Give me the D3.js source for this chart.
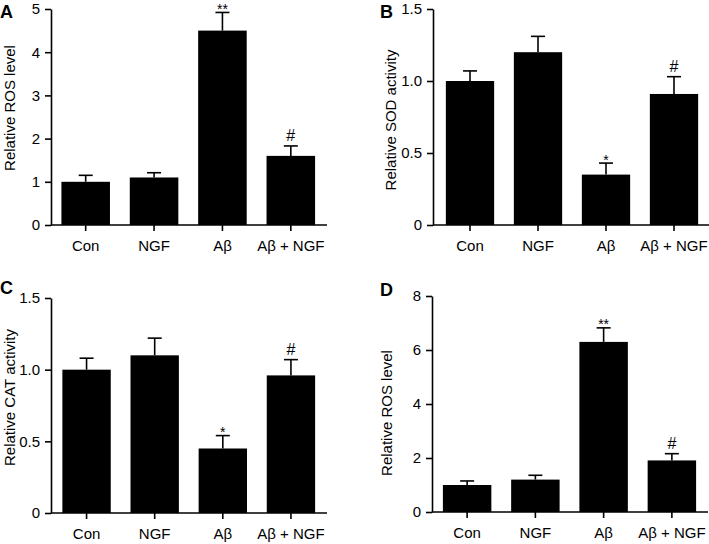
<!DOCTYPE html>
<html><head><meta charset="utf-8">
<script src="https://cdn.jsdelivr.net/npm/d3@7"></script>
<style>
body{margin:0;background:#fff;}
svg{display:block;}
text{font-family:"Liberation Sans",Arial,Helvetica,sans-serif;fill:#000;}
</style></head>
<body>
<svg id="c" width="709" height="544"></svg>
<script>
const categories = ["Con", "NGF", "Aβ", "Aβ + NGF"];

const rosA = [1.0, 1.1, 4.5, 1.6];
const rosAErr = [0.15, 0.11, 0.42, 0.23];
const rosASig = ["", "", "**", "#"];
const ticksA = [0, 1, 2, 3, 4, 5];

const sodB = [1.0, 1.2, 0.35, 0.91];
const sodBErr = [0.07, 0.11, 0.08, 0.12];
const sodBSig = ["", "", "*", "#"];
const ticksB = [0, 0.5, 1.0, 1.5];

const catC = [1.0, 1.1, 0.45, 0.96];
const catCErr = [0.08, 0.12, 0.09, 0.11];
const catCSig = ["", "", "*", "#"];
const ticksC = [0, 0.5, 1.0, 1.5];

const rosD = [1.0, 1.2, 6.3, 1.91];
const rosDErr = [0.15, 0.16, 0.52, 0.25];
const rosDSig = ["", "", "**", "#"];
const ticksD = [0, 2, 4, 6, 8];

const svg = d3.select("#c");

function fmt(v, dec) { return v === 0 ? "0" : (dec ? v.toFixed(1) : String(v)); }

function panel(o) {
  const g = svg.append("g");
  const y = d3.scaleLinear().domain([0, o.max]).range([o.y0, o.yTop]);
  const x = d3.scaleBand().domain(categories).range([o.bx0, o.bx1]).paddingInner(0.29).paddingOuter(0.145);

  // bars
  g.selectAll("rect.bar").data(o.vals).join("rect")
    .attr("x", (d, i) => x(categories[i]))
    .attr("width", x.bandwidth())
    .attr("y", d => y(d))
    .attr("height", d => y(0) - y(d))
    .attr("fill", "#000");

  // error bars (upper only)
  const cap = 7;
  o.vals.forEach((v, i) => {
    const cx = x(categories[i]) + x.bandwidth() / 2;
    const top = y(v + o.err[i]);
    g.append("line").attr("x1", cx).attr("x2", cx).attr("y1", y(v)).attr("y2", top)
      .attr("stroke", "#000").attr("stroke-width", 1.6);
    g.append("line").attr("x1", cx - cap).attr("x2", cx + cap).attr("y1", top).attr("y2", top)
      .attr("stroke", "#000").attr("stroke-width", 1.6);
    if (o.sig[i]) {
      const isStar = o.sig[i].indexOf("*") >= 0;
      g.append("text").attr("x", cx).attr("y", top + (isStar ? 1.5 : -5))
        .attr("text-anchor", "middle")
        .attr("font-size", isStar ? 14 : 16)
        .text(o.sig[i]);
    }
  });

  // y axis
  const ya = d3.axisLeft(y).tickValues(o.ticks).tickSize(6).tickSizeOuter(0)
    .tickFormat(d => fmt(d, o.dec));
  const yg = g.append("g").attr("transform", `translate(${o.ax},0)`).call(ya);
  yg.selectAll("path.domain").attr("stroke", "#000").attr("stroke-width", 1.6);
  yg.selectAll(".tick line").attr("stroke", "#000").attr("stroke-width", 1.6);
  yg.selectAll(".tick text").attr("font-size", 15).attr("x", -11)
    .style("font-family", '"Liberation Sans",Arial,sans-serif').attr("fill", "#000");

  // x axis
  const xa = d3.axisBottom(x).tickSize(6).tickSizeOuter(0);
  const xg = g.append("g").attr("transform", `translate(0,${o.y0})`).call(xa);
  xg.select("path.domain").remove();
  xg.append("line").attr("x1", o.ax).attr("x2", o.axEnd).attr("y1", 0).attr("y2", 0)
    .attr("stroke", "#000").attr("stroke-width", 1.6);
  xg.selectAll(".tick line").attr("stroke", "#000").attr("stroke-width", 1.6);
  xg.selectAll(".tick text").attr("font-size", 15).attr("y", 15)
    .style("font-family", '"Liberation Sans",Arial,sans-serif').attr("fill", "#000");

  // y title
  g.append("text")
    .attr("transform", `translate(${o.tx},${(o.y0 + o.yTop) / 2 + o.tdy}) rotate(-90)`)
    .attr("text-anchor", "middle").attr("font-size", 15)
    .text(o.title);

  // panel letter
  g.append("text").attr("x", o.lx).attr("y", o.ly)
    .attr("font-size", 18).attr("font-weight", "bold").text(o.letter);
}

panel({letter: "A", lx: 0, ly: 18, vals: rosA, err: rosAErr, sig: rosASig, ticks: ticksA, max: 5, dec: false,
  ax: 51, axEnd: 327, y0: 225, yTop: 9, bx0: 51.5, bx1: 325, tx: 15, tdy: -9, title: "Relative ROS level"});
panel({letter: "B", lx: 380, ly: 18, vals: sodB, err: sodBErr, sig: sodBSig, ticks: ticksB, max: 1.5, dec: true,
  ax: 433, axEnd: 709, y0: 225, yTop: 9, bx0: 436, bx1: 708, tx: 396, tdy: 3, title: "Relative SOD activity"});
panel({letter: "C", lx: 0, ly: 294, vals: catC, err: catCErr, sig: catCSig, ticks: ticksC, max: 1.5, dec: true,
  ax: 51, axEnd: 327, y0: 513, yTop: 298, bx0: 52.5, bx1: 325, tx: 15, tdy: -8, title: "Relative CAT activity"});
panel({letter: "D", lx: 380, ly: 296, vals: rosD, err: rosDErr, sig: rosDSig, ticks: ticksD, max: 8, dec: false,
  ax: 432, axEnd: 708, y0: 512, yTop: 296, bx0: 433, bx1: 706, tx: 392, tdy: 9, title: "Relative ROS level"});
</script>
</body></html>
